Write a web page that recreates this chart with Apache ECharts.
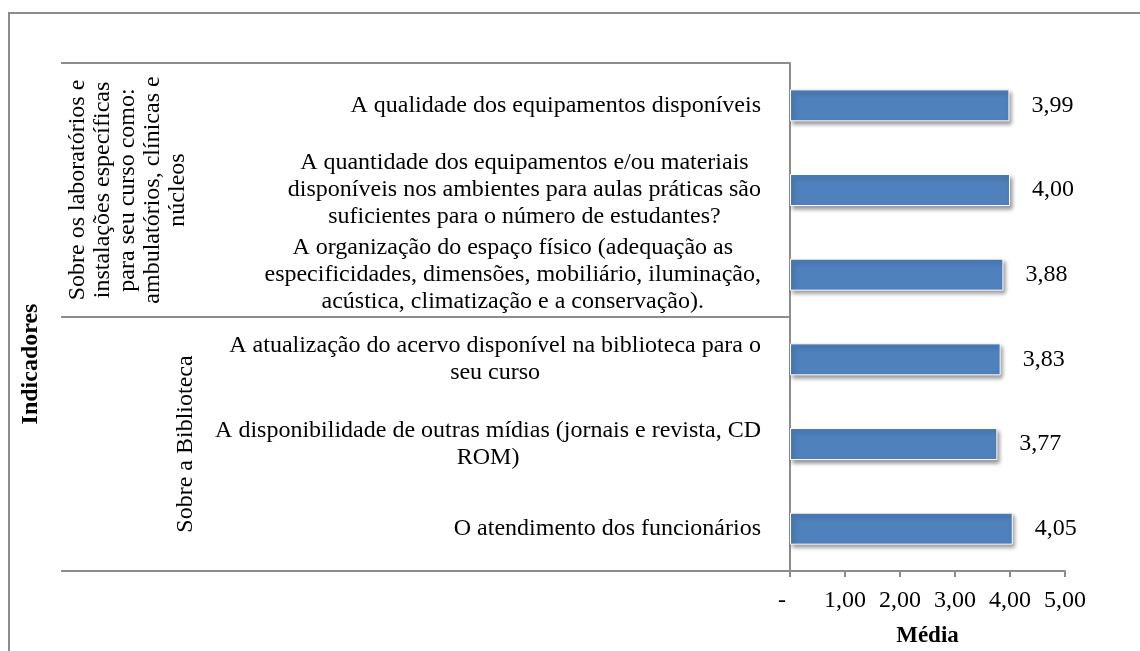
<!DOCTYPE html>
<html>
<head>
    <meta charset="utf-8">
    <title>Indicadores - Média</title>
    <script src="https://cdn.jsdelivr.net/npm/echarts@6.0.0/dist/echarts.min.js"></script>
    <style>
        html, body {
            margin: 0;
            padding: 0;
            background-color: #fff;
        }
        #chart {
            width: 1140px;
            height: 651px;
        }
    </style>
</head>
<body>
    <div id="chart"></div>

    <script>
        // dados do gráfico
        var indicadores = [
            'A qualidade dos equipamentos disponíveis',
            'A quantidade dos equipamentos e/ou materiais\ndisponíveis nos ambientes para aulas práticas são\nsuficientes para o número de estudantes?',
            'A organização do espaço físico (adequação as\nespecificidades, dimensões, mobiliário, iluminação,\nacústica, climatização e a conservação).',
            'A atualização do acervo disponível na biblioteca para o\nseu curso',
            'A disponibilidade de outras mídias (jornais e revista, CD\nROM)',
            'O atendimento dos funcionários'
        ];
        var medias = [3.99, 4.00, 3.88, 3.83, 3.77, 4.05];
        var grupos = [
            'Sobre os laboratórios e\ninstalações específicas\npara seu curso como:\nambulatórios, clínicas e\nnúcleos',
            'Sobre a Biblioteca'
        ];
        var xTicks = [0, 1, 2, 3, 4, 5];

        var serif = "'Liberation Serif', 'Times New Roman', serif";
        var gray = '#8c8c8c';
        var fs = 24;

        function centerLines(text) {
            var lines = text.split('\n');
            // rótulo de uma linha só fica um pouco mais à direita
            var st = lines.length > 1 ? 'c' : 's';
            return lines.map(function (l) { return '{' + st + '|' + l + '}'; }).join('\n');
        }

        function fmtNum(v) {
            return v.toFixed(2).replace('.', ',');
        }

        var chart = echarts.init(document.getElementById('chart'));

        var option = {
            animation: false,
            textStyle: { fontFamily: serif },
            grid: {
                left: 790,
                right: 75,
                top: 63,
                bottom: 80,
                containLabel: false,
                outerBoundsMode: 'none'
            },
            graphic: [
                {
                    type: 'rect',
                    shape: { x: 9, y: 13, width: 1200, height: 700 },
                    style: { fill: 'none', stroke: gray, lineWidth: 2 },
                    silent: true
                },
                {
                    type: 'text',
                    x: 31,
                    y: 364,
                    rotation: Math.PI / 2,
                    style: {
                        text: 'Indicadores',
                        font: 'bold 24px ' + serif,
                        fill: '#000',
                        align: 'center',
                        verticalAlign: 'middle'
                    }
                }
            ],
            xAxis: {
                type: 'value',
                min: 0,
                max: 5,
                interval: 1,
                name: 'Média',
                nameLocation: 'middle',
                nameGap: 54,
                nameTextStyle: {
                    fontFamily: serif,
                    fontWeight: 'bold',
                    fontSize: 23,
                    color: '#000'
                },
                splitLine: { show: false },
                axisLine: { show: true, lineStyle: { color: gray, width: 2 } },
                axisTick: { show: true, length: 6, lineStyle: { color: gray, width: 2 } },
                axisLabel: {
                    margin: 18,
                    color: '#000',
                    fontFamily: serif,
                    fontSize: fs,
                    formatter: function (v) {
                        if (v === xTicks[0]) return '{z|-}';
                        return fmtNum(v);
                    },
                    rich: {
                        z: { fontFamily: serif, fontSize: fs, color: '#000', padding: [0, 16, 0, 0] }
                    }
                }
            },
            yAxis: [
                {
                    type: 'category',
                    data: indicadores,
                    inverse: true,
                    axisLine: { show: true, lineStyle: { color: gray, width: 2 } },
                    axisTick: { show: false },
                    axisLabel: {
                        margin: 29,
                        color: '#000',
                        formatter: centerLines,
                        rich: {
                            c: { align: 'center', fontFamily: serif, fontSize: fs, lineHeight: 27, color: '#000' },
                            s: { align: 'center', fontFamily: serif, fontSize: fs, lineHeight: 27, color: '#000' }
                        }
                    }
                },
                {
                    type: 'category',
                    data: grupos,
                    inverse: true,
                    position: 'left',
                    offset: 0,
                    axisLine: { show: false },
                    axisTick: {
                        show: true,
                        length: 729,
                        lineStyle: { color: gray, width: 2 }
                    },
                    axisLabel: {
                        rotate: 90,
                        margin: 600,
                        color: '#000',
                        formatter: centerLines,
                        rich: {
                            c: { align: 'center', fontFamily: serif, fontSize: fs, lineHeight: 25, color: '#000' },
                            s: { align: 'center', fontFamily: serif, fontSize: fs, lineHeight: 9, color: '#000' }
                        }
                    }
                }
            ],
            series: [{
                type: 'bar',
                data: medias,
                yAxisIndex: 0,
                barWidth: 32,
                itemStyle: {
                    color: '#4f81bd',
                    borderColor: '#ffffff',
                    borderWidth: 1,
                    shadowColor: 'rgba(0, 0, 0, 0.4)',
                    shadowBlur: 4,
                    shadowOffsetX: 2,
                    shadowOffsetY: 3
                },
                label: {
                    show: true,
                    position: 'right',
                    distance: 22,
                    color: '#000',
                    fontFamily: serif,
                    fontSize: fs,
                    formatter: function (p) { return fmtNum(p.value); }
                }
            }]
        };

        chart.setOption(option);
    </script>
</body>
</html>
